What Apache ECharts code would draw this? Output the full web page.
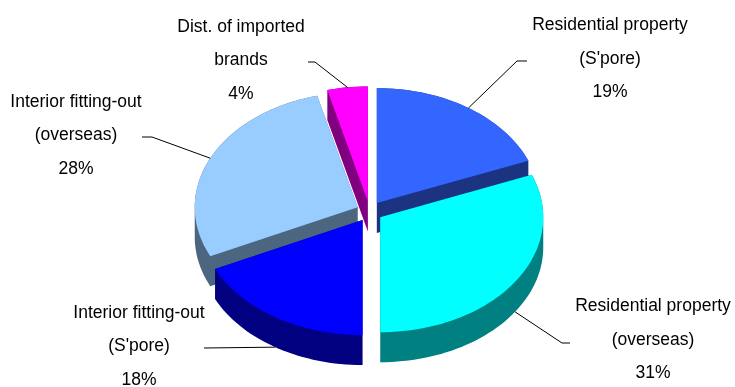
<!DOCTYPE html>
<html>
<head>
<meta charset="utf-8">
<script src="https://cdn.jsdelivr.net/npm/echarts@6/dist/echarts.min.js"></script>
<style>
html,body{margin:0;padding:0;background:#fff;}
#chart{width:735px;height:387px;}
</style>
</head>
<body>
<div id="chart"></div>
<script>
// ---- data ----
const categories = [
  "Residential property\n(S'pore)",
  "Residential property\n(overseas)",
  "Interior fitting-out\n(S'pore)",
  "Interior fitting-out\n(overseas)",
  "Dist. of imported\nbrands"
];
const values = [19, 31, 18, 28, 4];
const percentLabels = ["19%", "31%", "18%", "28%", "4%"];

// ---- styles / layout ----
const topColors  = ['#3366FF', '#00FFFF', '#0000FF', '#99CCFF', '#FF00FF'];
const sideColors = ['#1C3382', '#008080', '#000080', '#4D6680', '#800080'];
const PIE = { cx: 369.5, cy: 211.5, rx: 163, ry: 115, depth: 30, explode: 13, k: 0.78 };
// label layout: [textX, textY(middle line), elbowX, elbowY, endX, endY]
const labelLayout = [
  [610, 59, 517, 61, 527, 61],
  [653, 340, 562, 343, 570, 343],
  [139, 346.5, 204, 348, 204, 348],
  [76, 135.5, 152, 137, 142, 137],
  [241, 60.5, 315, 62, 308, 62]
];

function hull(points) {
  const p = points.slice().sort((a, b) => a[0] - b[0] || a[1] - b[1]);
  const cross = (o, a, b) => (a[0] - o[0]) * (b[1] - o[1]) - (a[1] - o[1]) * (b[0] - o[0]);
  const lower = [], upper = [];
  for (const pt of p) {
    while (lower.length >= 2 && cross(lower[lower.length - 2], lower[lower.length - 1], pt) <= 0) lower.pop();
    lower.push(pt);
  }
  for (let i = p.length - 1; i >= 0; i--) {
    const pt = p[i];
    while (upper.length >= 2 && cross(upper[upper.length - 2], upper[upper.length - 1], pt) <= 0) upper.pop();
    upper.push(pt);
  }
  upper.pop(); lower.pop();
  return lower.concat(upper);
}

function renderItem(params, api) {
  const i = params.dataIndex;
  const v = api.value(0);
  const total = values.reduce((s, x) => s + x, 0);
  let before = 0;
  for (let j = 0; j < i; j++) before += values[j];
  const a0 = before / total * Math.PI * 2;
  const a1 = (before + v) / total * Math.PI * 2;
  const mid = (a0 + a1) / 2;
  const cx = PIE.cx + PIE.explode * Math.sin(mid);
  const cy = PIE.cy - PIE.explode * PIE.k * Math.cos(mid);
  const n = Math.max(4, Math.ceil((a1 - a0) / (Math.PI * 2) * 180));
  const top = [[cx, cy]];
  for (let s = 0; s <= n; s++) {
    const t = a0 + (a1 - a0) * s / n;
    top.push([cx + PIE.rx * Math.sin(t), cy - PIE.ry * Math.cos(t)]);
  }
  const all = top.concat(top.map(p => [p[0], p[1] + PIE.depth]));
  const side = hull(all);

  // leader line
  let ex = cx + PIE.rx * Math.sin(mid);
  let ey = cy - PIE.ry * Math.cos(mid);
  if (Math.cos(mid) < 0) ey += PIE.depth;
  const L = labelLayout[i];
  const textStr = categories[i] + '\n' + percentLabels[i];

  return {
    type: 'group',
    children: [
      { type: 'polygon', z2: Math.round(cy), shape: { points: side }, style: { fill: sideColors[i] } },
      { type: 'polygon', z2: 1000, shape: { points: top }, style: { fill: topColors[i] } },
      { type: 'polyline', z2: 1001, shape: { points: [[ex, ey], [L[2], L[3]], [L[4], L[5]]] },
        style: { stroke: '#000', lineWidth: 1, fill: null } },
      { type: 'text', z2: 1002,
        style: { text: textStr, x: L[0], y: L[1], align: 'center', verticalAlign: 'middle',
                 fontFamily: 'Liberation Sans, Arial, sans-serif', fontSize: 17.5, lineHeight: 33.5, fill: '#000' } }
    ]
  };
}

const chart = echarts.init(document.getElementById('chart'), null, { renderer: 'canvas' });
chart.setOption({
  animation: false,
  backgroundColor: '#ffffff',
  series: [{
    type: 'custom',
    coordinateSystem: 'none',
    renderItem: renderItem,
    data: values.map((v, i) => ({ name: categories[i], value: [v] }))
  }]
});
</script>
</body>
</html>
